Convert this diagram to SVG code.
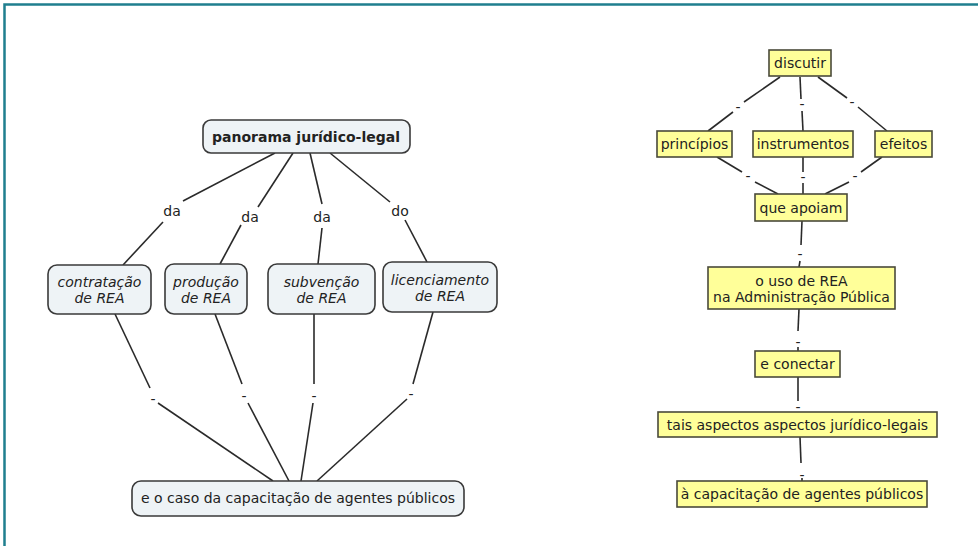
<svg xmlns="http://www.w3.org/2000/svg" width="978" height="546" viewBox="0 0 978 546">
<style>
text{font-family:"DejaVu Sans",Verdana,sans-serif;font-size:14px;fill:#222;text-anchor:middle}
.b{font-weight:bold}
.i{font-style:italic}
.gn{fill:#eef3f6;stroke:#3a3a3a;stroke-width:1.6}
.yn{fill:#ffff99;stroke:#4a4a3a;stroke-width:1.6}
.c line{stroke:#2a2a2a;stroke-width:1.6}
</style>
<rect width="978" height="546" fill="#fff"/>
<path d="M4.5,546 V4.5 H978" fill="none" stroke="#1f7f8f" stroke-width="2.5"/>

<g id="connectors" class="c">
<line x1="275" y1="153" x2="183" y2="201"/>
<line x1="163" y1="222" x2="123" y2="265"/>
<line x1="293" y1="153" x2="258" y2="207"/>
<line x1="241" y1="225" x2="220" y2="264"/>
<line x1="310" y1="153" x2="322" y2="204"/>
<line x1="322" y1="228" x2="318" y2="264"/>
<line x1="330" y1="153" x2="390" y2="202"/>
<line x1="405" y1="220" x2="427" y2="262"/>
<line x1="115" y1="314" x2="150" y2="388"/>
<line x1="158" y1="403" x2="273" y2="481"/>
<line x1="215" y1="314" x2="242" y2="384"/>
<line x1="248" y1="403" x2="289" y2="481"/>
<line x1="314" y1="314" x2="314" y2="384"/>
<line x1="313" y1="403" x2="301" y2="481"/>
<line x1="433" y1="312" x2="413" y2="384"/>
<line x1="407" y1="399" x2="317" y2="481"/>

<line x1="780" y1="77" x2="744" y2="102"/>
<line x1="733" y1="112" x2="708" y2="131"/>
<line x1="800" y1="77" x2="801" y2="99"/>
<line x1="802" y1="111" x2="803" y2="131"/>
<line x1="818" y1="77" x2="847" y2="98"/>
<line x1="858" y1="107" x2="887" y2="131"/>
<line x1="717" y1="157" x2="742" y2="172"/>
<line x1="755" y1="182" x2="778" y2="194"/>
<line x1="803" y1="157" x2="803" y2="172"/>
<line x1="803" y1="183" x2="803" y2="194"/>
<line x1="882" y1="157" x2="861" y2="172"/>
<line x1="849" y1="182" x2="825" y2="194"/>
<line x1="802" y1="221" x2="801" y2="245"/>
<line x1="800" y1="261" x2="799" y2="267"/>
<line x1="799" y1="309" x2="798" y2="331"/>
<line x1="798" y1="347" x2="798" y2="351"/>
<line x1="798" y1="377" x2="798" y2="401"/>
<line x1="800" y1="437" x2="801" y2="463"/>
<line x1="802" y1="478" x2="802" y2="481"/>

<text x="172" y="216">da</text>
<text x="250" y="222">da</text>
<text x="322" y="222">da</text>
<text x="400" y="216">do</text>
<text x="153" y="404">-</text>
<text x="244" y="401">-</text>
<text x="314" y="401">-</text>
<text x="411" y="399">-</text>
<text x="738" y="112">-</text>
<text x="802" y="109">-</text>
<text x="852" y="107">-</text>
<text x="748" y="181">-</text>
<text x="803" y="182">-</text>
<text x="855" y="181">-</text>
<text x="800" y="259">-</text>
<text x="798" y="347">-</text>
<text x="798" y="412">-</text>
<text x="802" y="480">-</text>
</g>

<g id="panorama"><rect class="gn" x="203" y="120" width="207" height="33" rx="8"/><text class="b" x="306" y="141.5">panorama jurídico-legal</text></g>
<g id="contratacao"><rect class="gn" x="48" y="265" width="103" height="49" rx="9"/><text class="i" x="99.5" y="286.5">contratação</text><text class="i" x="99.5" y="302.5">de REA</text></g>
<g id="producao"><rect class="gn" x="165" y="264" width="82" height="50" rx="9"/><text class="i" x="206" y="286.5">produção</text><text class="i" x="206" y="302.5">de REA</text></g>
<g id="subvencao"><rect class="gn" x="268" y="264" width="107" height="50" rx="9"/><text class="i" x="321.5" y="286.5">subvenção</text><text class="i" x="321.5" y="302.5">de REA</text></g>
<g id="licenciamento"><rect class="gn" x="383" y="262" width="114" height="50" rx="9"/><text class="i" x="440" y="284.5">licenciamento</text><text class="i" x="440" y="300.5">de REA</text></g>
<g id="caso"><rect class="gn" x="132" y="481" width="332" height="35" rx="9"/><text x="298" y="503">e o caso da capacitação de agentes públicos</text></g>

<g id="discutir"><rect class="yn" x="769" y="50" width="62" height="26"/><text x="800" y="68">discutir</text></g>
<g id="principios"><rect class="yn" x="657" y="131" width="75" height="26"/><text x="694.5" y="149">princípios</text></g>
<g id="instrumentos"><rect class="yn" x="753" y="131" width="100" height="26"/><text x="803" y="149">instrumentos</text></g>
<g id="efeitos"><rect class="yn" x="875" y="131" width="57" height="26"/><text x="903.5" y="149">efeitos</text></g>
<g id="que-apoiam"><rect class="yn" x="755" y="194" width="92" height="27"/><text x="801" y="212.5">que apoiam</text></g>
<g id="uso-rea"><rect class="yn" x="708" y="267" width="187" height="42"/><text x="801.5" y="285.5">o uso de REA</text><text x="801.5" y="301.5">na Administração Pública</text></g>
<g id="conectar"><rect class="yn" x="755" y="351" width="85" height="26"/><text x="797.5" y="369">e conectar</text></g>
<g id="aspectos"><rect class="yn" x="658" y="412" width="279" height="25"/><text x="797.5" y="429.5">tais aspectos aspectos jurídico-legais</text></g>
<g id="capacitacao"><rect class="yn" x="677" y="481" width="250" height="26"/><text x="802" y="499">à capacitação de agentes públicos</text></g>
</svg>
